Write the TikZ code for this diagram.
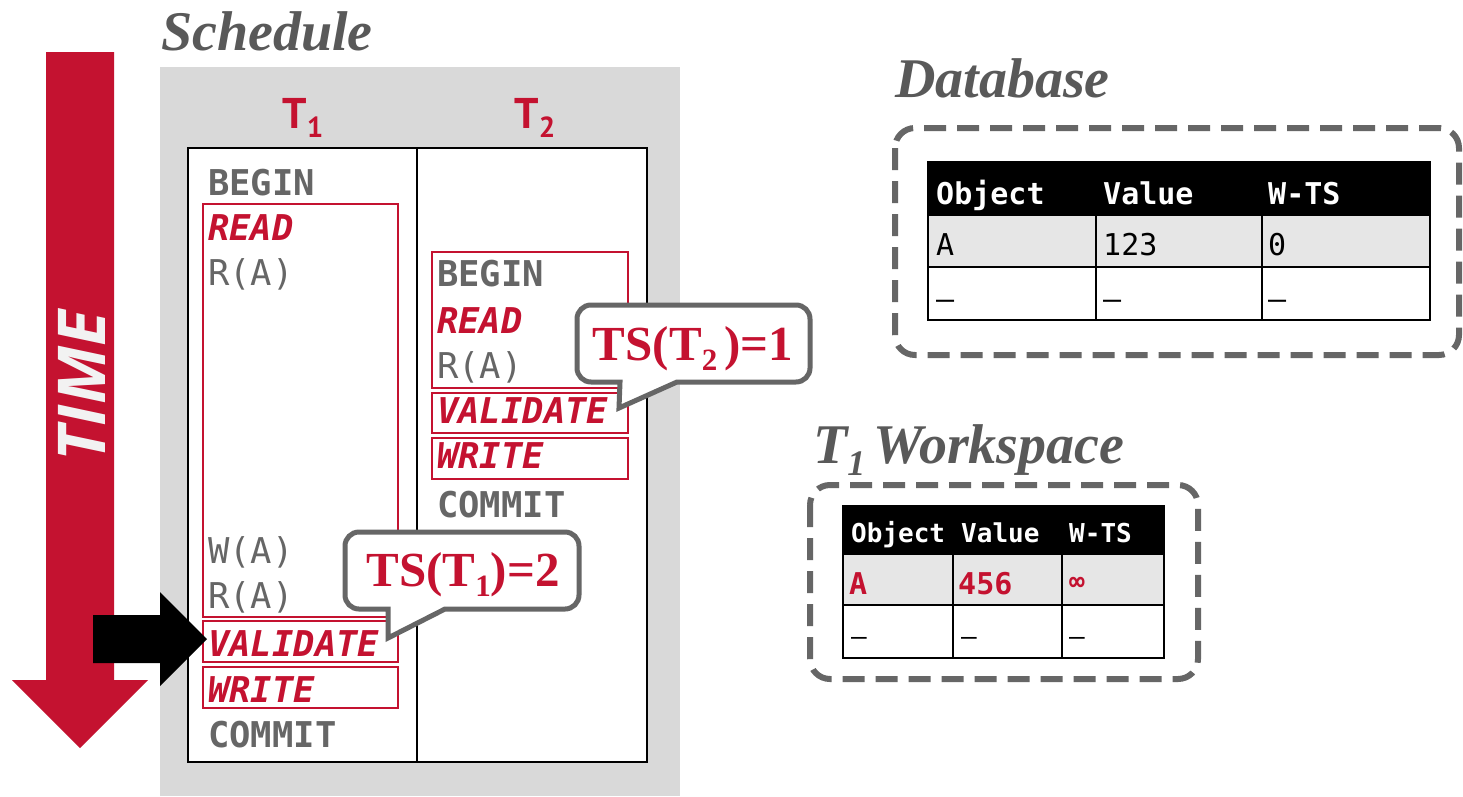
\documentclass[tikz,border=0pt]{standalone}
\usepackage{fontspec}
\setmainfont{Liberation Serif}
\newfontfamily\monof{DejaVu Sans Mono}
\newfontfamily\labf{PT Sans}
\newfontfamily\timef{Open Sans}
\definecolor{cmured}{HTML}{C41230}
\definecolor{txtgrey}{HTML}{666666}
\definecolor{titlegrey}{HTML}{595959}
\definecolor{panelgrey}{HTML}{D9D9D9}
\definecolor{boxgrey}{HTML}{666666}
\definecolor{rowgrey}{HTML}{E6E6E6}
\definecolor{timewhite}{HTML}{F2F2F2}
\newcommand\schfont{\monof\fontsize{35.5}{40}\selectfont}
\begin{document}
\begin{tikzpicture}[x=1pt,y=-1pt,
  title/.style={anchor=base west, inner sep=0pt, text=titlegrey, font=\fontsize{56}{60}\selectfont\bfseries\itshape},
  cmd/.style={anchor=base west, inner sep=0pt, text=txtgrey, font=\schfont\bfseries},
  acc/.style={anchor=base west, inner sep=0pt, text=txtgrey, font=\schfont},
  phase/.style={anchor=base west, inner sep=0pt, text=cmured, font=\schfont\bfseries\itshape},
  redbox/.style={draw=cmured, line width=2pt},
  tlab/.style={anchor=base, inner sep=0pt, text=cmured, font=\labf\bfseries\fontsize{43}{45}\selectfont},
  callout/.style={draw=boxgrey, line width=5pt, fill=white, line join=miter},
  calltext/.style={anchor=base, inner sep=0pt, text=cmured, font=\fontsize{49}{50}\selectfont\bfseries},
  dashbox/.style={draw=boxgrey, line width=6pt, dash pattern=on 22pt off 11pt, rounded corners=20pt},
  grid/.style={draw=black, line width=2.5pt},
  dbh/.style={anchor=base west, inner sep=0pt, text=white, font=\monof\bfseries\fontsize{30}{32}\selectfont},
  dbc/.style={anchor=base west, inner sep=0pt, text=black, font=\monof\fontsize{30}{32}\selectfont},
  wsh/.style={anchor=base west, inner sep=0pt, text=white, font=\monof\bfseries\fontsize{26}{28}\selectfont},
  wsr/.style={anchor=base west, inner sep=0pt, text=cmured, font=\monof\bfseries\fontsize{30}{32}\selectfont},
  wsc/.style={anchor=base west, inner sep=0pt, text=black, font=\monof\fontsize{26}{28}\selectfont}
]
\useasboundingbox (0,0) rectangle (1463,796);
\fill[white] (0,0) rectangle (1463,796);

% ---------- schedule panel ----------
\node[title] (schedtitle) at (161,50) {Schedule};
\fill[panelgrey] (160,67) rectangle (680,796);
\draw[line width=2pt, fill=white] (188,148) rectangle (647,762);
\draw[line width=2pt] (417,148) -- (417,762);
\node[tlab] (t1) at (303,128) {T\raisebox{-9pt}{\fontsize{29}{29}\selectfont 1}};
\node[tlab] (t2) at (535,128) {T\raisebox{-9pt}{\fontsize{29}{29}\selectfont 2}};

% ---------- time arrow ----------
\fill[cmured] (46,52) -- (114,52) -- (114,680) -- (148,680) -- (80,748) -- (12,680) -- (46,680) -- cycle;
\node[rotate=90, inner sep=0pt, text=timewhite, font=\timef\bfseries\itshape\fontsize{66}{68}\selectfont] (time) at (82,386) {TIME};

% ---------- red phase boxes ----------
\draw[redbox] (203,204) rectangle (398,617);
\draw[redbox] (203,621) rectangle (398,662);
\draw[redbox] (203,667) rectangle (398,708);
\draw[redbox] (432,252) rectangle (628,388);
\draw[redbox] (432,393) rectangle (628,433);
\draw[redbox] (432,438) rectangle (628,479);

% ---------- T1 operations ----------
\node[cmd]   (a1) at (208,195) {BEGIN};
\node[phase] (a2) at (208,240) {READ};
\node[acc]   (a3) at (208,285) {R(A)};
\node[acc]   (a4) at (208,563) {W(A)};
\node[acc]   (a5) at (208,608) {R(A)};
\node[phase] (a6) at (208,656) {VALIDATE};
\node[phase] (a7) at (208,702) {WRITE};
\node[cmd]   (a8) at (208,747) {COMMIT};

% ---------- T2 operations ----------
\node[cmd]   (b1) at (437,286) {BEGIN};
\node[phase] (b2) at (437,333) {READ};
\node[acc]   (b3) at (437,378) {R(A)};
\node[phase] (b4) at (437,423) {VALIDATE};
\node[phase] (b5) at (437,468) {WRITE};
\node[cmd]   (b6) at (437,517) {COMMIT};

% ---------- black pointer arrow ----------
\fill[black] (93,615) -- (160,615) -- (160,592) -- (207,639) -- (160,686) -- (160,663) -- (93,663) -- cycle;

% ---------- callouts ----------
\draw[callout] (620,382) [rounded corners=14pt] -- (577,382) -- (577,305) -- (810,305) -- (810,382) [sharp corners] -- (677,382) -- (619,408) -- cycle;
\node[calltext] (ts2) at (693,360) {TS(T\raisebox{-10pt}{\fontsize{31}{31}\selectfont 2}\hspace{7pt})=1};
\draw[callout] (388,609) [rounded corners=14pt] -- (345,609) -- (345,532) -- (579,532) -- (579,609) [sharp corners] -- (445,609) -- (388,638) -- cycle;
\node[calltext] (ts1) at (463,586) {TS(T\raisebox{-10pt}{\fontsize{31}{31}\selectfont 1})=2};

% ---------- Database ----------
\node[title] (dbtitle) at (895,97) {Database};
\draw[dashbox] (895,128) rectangle (1459,355);
\fill[black] (928,162) rectangle (1430,215);
\fill[rowgrey] (928,215) rectangle (1430,267);
\fill[white] (928,267) rectangle (1430,320);
\draw[grid] (928,162) rectangle (1430,320);
\draw[grid] (928,215) -- (1430,215);
\draw[grid] (928,267) -- (1430,267);
\draw[grid] (1096,162) -- (1096,320);
\draw[grid] (1262,162) -- (1262,320);
\node[dbh] (dh1) at (936,204) {Object};
\node[dbh] (dh2) at (1103,204) {Value};
\node[dbh] (dh3) at (1268,204) {W-TS};
\node[dbc] (dc1) at (936,255) {A};
\node[dbc] (dc2) at (1103,255) {123};
\node[dbc] (dc3) at (1268,255) {0};
\node[dbc] (dd1) at (936,309) {–};
\node[dbc] (dd2) at (1103,309) {–};
\node[dbc] (dd3) at (1268,309) {–};

% ---------- T1 Workspace ----------
\node[title] (wstitle) at (813,463) {T\raisebox{-12pt}{\fontsize{36}{36}\selectfont 1}\hspace{8pt}Workspace};
\draw[dashbox] (810,485) rectangle (1198,679);
\fill[black] (843,506) rectangle (1164,554);
\fill[rowgrey] (843,554) rectangle (1164,605);
\fill[white] (843,605) rectangle (1164,658);
\draw[grid] (843,506) rectangle (1164,658);
\draw[grid] (843,554) -- (1164,554);
\draw[grid] (843,605) -- (1164,605);
\draw[grid] (953,506) -- (953,658);
\draw[grid] (1062,506) -- (1062,658);
\node[wsh] (wh1) at (851,542) {Object};
\node[wsh] (wh2) at (961,542) {Value};
\node[wsh] (wh3) at (1069,542) {W-TS};
\node[wsr] (wc1) at (849,594) {A};
\node[wsr] (wc2) at (958,594) {456};
\node[wsc, text=cmured, font=\monof\bfseries\fontsize{26}{28}\selectfont] (wc3) at (1069,590) {∞};
\node[wsc] (wd1) at (851,645) {–};
\node[wsc] (wd2) at (961,645) {–};
\node[wsc] (wd3) at (1069,645) {–};
\end{tikzpicture}
\end{document}
